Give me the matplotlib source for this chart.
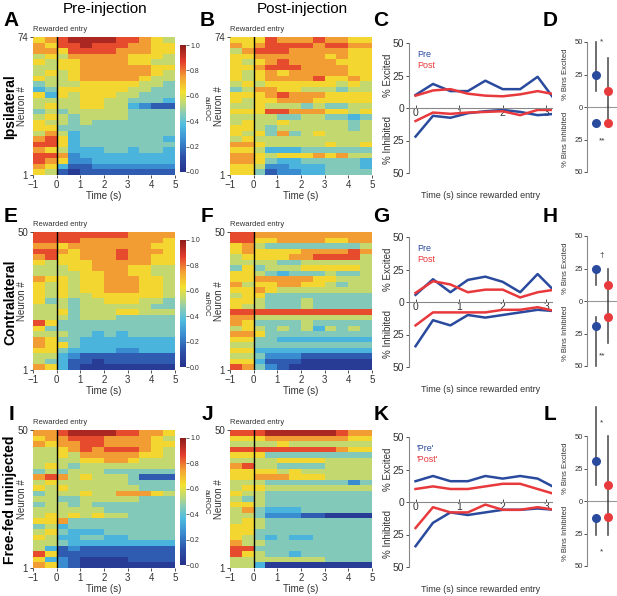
import numpy as np
import matplotlib
matplotlib.use("Agg")
import matplotlib.pyplot as plt
from matplotlib.colors import LinearSegmentedColormap

plt.rcParams['font.family'] = ['Liberation Sans', 'DejaVu Sans']

# heatmap rows, top row = highest neuron; digit d -> auROC (d + 0.5) / 10
# columns are 0.5 s bins from -1 to 5 s
heat_A = ["678999988765", "768898887766", "776888877766", "565777776665", "656677776655",
          "556677777766", "565677777765", "655677777655", "455566666554", "346666665544",
          "636566655444", "555566554443", "565566553211", "454555554444", "565455554444",
          "655454444444", "664444444444", "575344444444", "786344444443", "886344444444",
          "765333443443", "887233333333", "876223333333", "763112222222", "651011111111"]
heat_B = ["666877787766", "767888878877", "578887777766", "667777776766", "656787777666",
          "667888777766", "656767777766", "656777786676", "565666666565", "457766555455",
          "666787776666", "656677766666", "556555454455", "666887776656", "555544554434",
          "565565555545", "665455555545", "656474565555", "565555555555", "776555556556",
          "665333444444", "776566676755", "776433444443", "665223334443", "664122334444"]
heat_E = ["888888887777", "888877777776", "776777777766", "887677787776", "786677787766",
          "656667777766", "555667776655", "555566776655", "766566777665", "656566777665",
          "656566777665", "656556666665", "645455666554", "555455555544", "556455566555",
          "555455544444", "864444444444", "644444444444", "555443434444", "764433333333",
          "766433333333", "664333322333", "553211111111", "543110111111", "763100000000"]
heat_F = ["887777777777", "886677776677", "675444444445", "676666777787", "566667788885",
          "555544555555", "464555666665", "665434445445", "667777766555", "756677665455",
          "667655555555", "566444444444", "665444544444", "655444544444", "888888888888",
          "775555555555", "764444544444", "565454535454", "776444444444", "664433333333",
          "554444444444", "663333333333", "554222111111", "663111000000", "874210000000"]
heat_I = ["778999988776", "677888777765", "767788777766", "556787888765", "556577777665",
          "555566776555", "565455555555", "454555444444", "787565554111", "565555554444",
          "656555555444", "455565577765", "554455555444", "455454444444", "555555444444",
          "565656554444", "667444444444", "453444444444", "564333444444", "653344334444",
          "554333333333", "531211111111", "861111111111", "632100001111", "762100000000"]
heat_J = ["888999999877", "666777777766", "555565555555", "888888888766", "666444444444",
          "555566665555", "785544445555", "666656555555", "667776665555", "555444444424",
          "566555555555", "655444444444", "545444444444", "665444444444", "574333444444",
          "554222110000", "565444444444", "665444444444", "664444444444", "654343344444",
          "755444444444", "884444444444", "865443444444", "555555554444", "553000000000"]

n_neurons = [74, 50, 50]
row_names = ["Ipsilateral", "Contralateral", "Free-fed uninjected"]

# % excited / inhibited time courses, 0.4 s bins
t_bins = [0, 0.4, 0.8, 1.2, 1.6, 2.0, 2.4, 2.8, 3.2]
C_pre_exc = [10, 18.5, 13, 13, 21, 14.5, 14.5, 24, 6]
C_post_exc = [9.5, 13.5, 14.5, 11, 9.5, 9, 10.5, 13, 10.5]
C_pre_inh = [-22, -6, -7.5, -4, -2.5, -1.5, -3, -5.5, -4.5]
C_post_inh = [-10, -3.5, -4.5, -3.5, -3, -2.5, -5.5, -1.5, -1.5]
G_pre_exc = [5.5, 17.5, 7.5, 17, 19.5, 15.5, 7.5, 21.5, 8]
G_post_exc = [7, 16, 13.5, 7.5, 9.5, 9.5, 3.5, 7.5, 9.5]
G_pre_inh = [-34, -14, -18, -10, -12, -10, -8, -6, -7]
G_post_inh = [-18, -8, -8, -8, -8, -6, -6, -4, -7]
K_pre_exc = [16, 20, 16, 16, 20, 18, 20, 18, 11]
K_post_exc = [10, 12, 10, 10, 12, 14, 14, 10, 6]
K_pre_inh = [-34, -16, -8, -10, -8, -6, -6, -5, -6]
K_post_inh = [-20, -4, -8, -8, -2, -6, -6, -4, -6]
legend_labels = [("Pre", "Post"), ("Pre", "Post"), ("'Pre'", "'Post'")]

# % bins excited / inhibited: mean and range for pre / post
D_means = [(25, 12.5, -12.5, -12.5), (25, 12.5, -19, -12.5), (31, 12.5, -13, -12.5)]
D_ranges = [((12.5, 50), (0, 38), (-12.5, -12.5), (-14, 0)),
            ((12, 25), (0, 25), (-50, -12.5), (-32, 0)),
            ((12.5, 72), (0, 50), (-26, -13), (-26, 0))]
D_marks = [(("*", 50), ("**", -26)), (("\u2020", 35), ("**", -42)), (("*", 60), ("*", -39))]

blue = '#2a4a9e'
red = '#e8393c'
grey = '#555555'
txt = '#333333'

cmap = LinearSegmentedColormap.from_list("softjet", [
    (0.0, '#26318a'), (0.12, '#2c4fa8'), (0.25, '#3a8cd0'), (0.37, '#4fbde0'),
    (0.47, '#8fcdb0'), (0.55, '#c4da70'), (0.63, '#f3e22e'), (0.75, '#f3a035'),
    (0.87, '#e33b2b'), (1.0, '#8c1c1c')])

W, H = 617, 596
fig = plt.figure(figsize=(W / 100, H / 100), dpi=100)


def px(l, t, w, h):
    return [l / W, 1 - (t + h) / H, w / W, h / H]


def heat(ax, rows, n):
    grid = (np.array([[int(c) for c in r] for r in rows]) + 0.5) / 10
    im = ax.imshow(grid, cmap=cmap, vmin=0, vmax=1, aspect='auto',
                   extent=[-1, 5, 1, n], interpolation='nearest')
    ax.axvline(0, color='black', lw=1)
    ax.set_xlim(-1, 5)
    ax.set_ylim(1, n)
    ax.set_xticks([-1, 0, 1, 2, 3, 4, 5])
    ax.set_xticklabels(['\u22121', '0', '1', '2', '3', '4', '5'])
    ax.set_yticks([1, n])
    for s in ax.spines.values():
        s.set_visible(False)
    ax.tick_params(labelsize=7, length=2.5, width=0.6, pad=1, colors=txt)
    ax.set_ylabel("Neuron #", fontsize=7, color=txt)
    ax.yaxis.set_label_coords(-0.045, 0.5)
    ax.set_xlabel("Time (s)", fontsize=7, color=txt, labelpad=1)
    ax.text(0, 1.03, "Rewarded entry", transform=ax.transAxes, fontsize=5.5,
            color=txt, va='bottom', ha='left')
    return im


tops = [37, 232, 430]
heat_pre = [heat_A, heat_E, heat_I]
heat_post = [heat_B, heat_F, heat_J]
line_data = [(C_pre_exc, C_post_exc, C_pre_inh, C_post_inh),
             (G_pre_exc, G_post_exc, G_pre_inh, G_post_inh),
             (K_pre_exc, K_post_exc, K_pre_inh, K_post_inh)]
line_tops = [43, 237, 437]
letters = ["ABCD", "EFGH", "IJKL"]
letter_y = [20, 217, 415]

for r in range(3):
    t = tops[r]
    n = n_neurons[r]
    ax1 = fig.add_axes(px(33, t, 142, 138))
    im = heat(ax1, heat_pre[r], n)
    cax = fig.add_axes(px(180, t + 8, 6, 127))
    cb = fig.colorbar(im, cax=cax, ticks=[0, 0.2, 0.4, 0.6, 0.8, 1.0])
    cb.outline.set_visible(False)
    cb.ax.set_yticklabels(['0.0', '0.2', '0.4', '0.6', '0.8', '1.0'])
    cb.ax.tick_params(labelsize=5, length=2, width=0.5, pad=1, colors=txt)
    cax.text(4.3, 0.5, "auROC", transform=cax.transAxes, rotation=270, fontsize=5.5,
             color=txt, ha='center', va='center')
    ax2 = fig.add_axes(px(230, t, 142, 138))
    heat(ax2, heat_post[r], n)

    # line plot of % excited / inhibited
    pe, qe, pi, qi = line_data[r]
    axc = fig.add_axes(px(409, line_tops[r], 143, 130))
    axc.plot(t_bins, pe, color=blue, lw=1.8)
    axc.plot(t_bins, qe, color=red, lw=1.8)
    axc.plot(t_bins, pi, color=blue, lw=1.8)
    axc.plot(t_bins, qi, color=red, lw=1.8)
    axc.set_xlim(-0.15, 3.13)
    axc.set_ylim(-50, 50)
    axc.spines['top'].set_visible(False)
    axc.spines['right'].set_visible(False)
    axc.spines['bottom'].set_position(('data', 0))
    for s in ('left', 'bottom'):
        axc.spines[s].set_color('#888888')
        axc.spines[s].set_linewidth(0.8)
    axc.set_yticks([-50, -25, 0, 25, 50])
    axc.set_yticklabels(['50', '25', '0', '25', '50'])
    axc.set_xticks([0, 1, 2, 3])
    axc.tick_params(labelsize=7.5, length=2.5, width=0.6, pad=1, colors=txt)
    axc.tick_params(axis='x', direction='in', pad=0)
    axc.text(-0.15, 0.75, "% Excited", transform=axc.transAxes, rotation=90,
             fontsize=7, color=txt, ha='center', va='center')
    axc.text(-0.15, 0.25, "% Inhibited", transform=axc.transAxes, rotation=90,
             fontsize=7, color=txt, ha='center', va='center')
    axc.text(0.03, 41, legend_labels[r][0], color=blue, fontsize=6.5, va='center')
    axc.text(0.03, 33, legend_labels[r][1], color=red, fontsize=6.5, va='center')
    axc.text(0.5, -0.17, "Time (s) since rewarded entry", transform=axc.transAxes,
             fontsize=6.5, color=txt, ha='center', va='center')

    # % bins dot plot
    axd = fig.add_axes(px(587, line_tops[r] - 1, 30, 130))
    axd.set_xlim(0, 1)
    axd.set_ylim(-50, 50)
    axd.axhline(0, color='#999999', lw=0.8)
    xs = [0.3, 0.7, 0.3, 0.7]
    cols = [blue, red, blue, red]
    for k in range(4):
        lo, hi = D_ranges[r][k]
        axd.plot([xs[k], xs[k]], [lo, hi], color=grey, lw=1.2, clip_on=False, zorder=2)
    for k in range(4):
        axd.scatter([xs[k]], [D_means[r][k]], s=30, color=cols[k], zorder=3, clip_on=False)
    for m, yv in D_marks[r]:
        axd.text(0.5, yv, m, fontsize=6, color=txt, ha='center', va='center')
    for s in ('top', 'right', 'bottom'):
        axd.spines[s].set_visible(False)
    axd.spines['left'].set_color('#888888')
    axd.spines['left'].set_linewidth(0.8)
    axd.set_xticks([])
    axd.set_yticks([-50, -25, 0, 25, 50])
    axd.set_yticklabels(['50', '25', '0', '25', '50'])
    axd.tick_params(labelsize=5.5, length=2, width=0.6, pad=1, colors=txt)
    axd.text(-0.72, 0.75, "% Bins Excited", transform=axd.transAxes, rotation=90,
             fontsize=5.5, color=txt, ha='center', va='center')
    axd.text(-0.72, 0.25, "% Bins Inhibited", transform=axd.transAxes, rotation=90,
             fontsize=5.5, color=txt, ha='center', va='center')

    # panel letters and row names
    for lx, ch in zip([11, 207, 381, 550], letters[r]):
        fig.text(lx / W, 1 - letter_y[r] / H, ch, fontsize=15, fontweight='bold',
                 ha='center', va='center')
    fig.text(10 / W, 1 - (t + 70) / H, row_names[r], rotation=90, fontsize=10,
             fontweight='bold', ha='center', va='center')

fig.text(105 / W, 1 - 9 / H, "Pre-injection", fontsize=11, ha='center', va='center')
fig.text(302 / W, 1 - 9 / H, "Post-injection", fontsize=11, ha='center', va='center')

fig.savefig("out.png", dpi=100)
